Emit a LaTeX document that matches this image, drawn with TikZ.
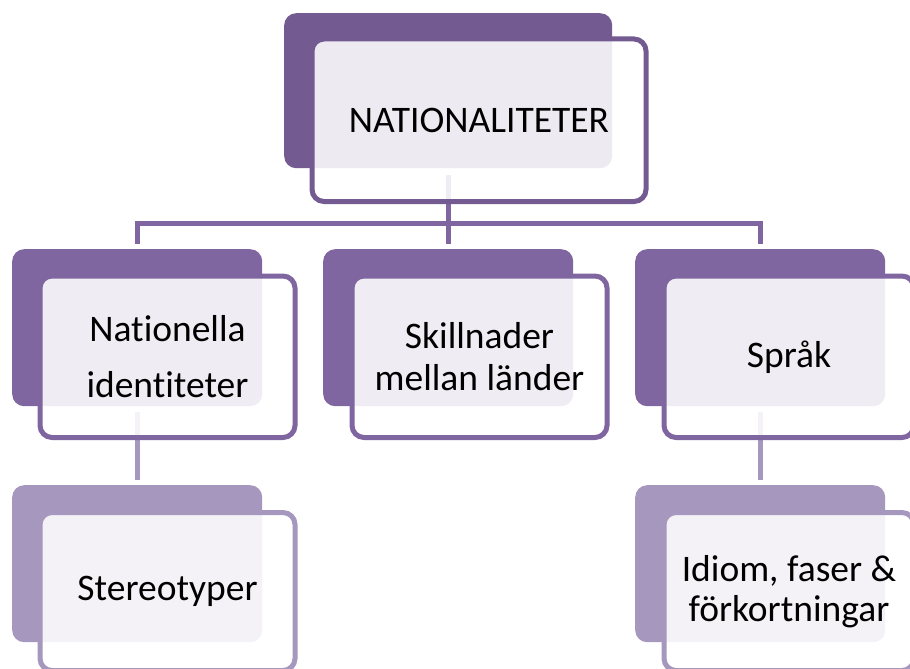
\documentclass[tikz,border=0pt]{standalone}
\usepackage{fontspec}
\setmainfont{Carlito}[Ligatures={NoCommon}]
\usetikzlibrary{calc}
\definecolor{topc}{HTML}{735B92}
\definecolor{midc}{HTML}{8066A0}
\definecolor{lowc}{HTML}{A597BD}
\begin{document}
\begin{tikzpicture}[x=1pt,y=-1pt,
  back/.style={rectangle, rounded corners=12pt, fill=#1, inner sep=0pt, anchor=north west},
  front/.style={rectangle, rounded corners=12pt, draw=#1, line width=5pt,
    fill=white, fill opacity=0.88, text opacity=1, inner sep=0pt,
    align=center, anchor=north west},
  conn/.style={draw=#1, line width=5pt},
  lbl/.style={font=\fontsize{37.5}{#1}\selectfont}
  ]
\useasboundingbox (0,0) rectangle (910,669);

% shaded back plates
\node[back=topc, minimum width=328pt, minimum height=155pt] (topA) at (284,13) {};
\node[back=midc, minimum width=250pt, minimum height=157pt] (nA) at (12,249) {};
\node[back=midc, minimum width=250pt, minimum height=157pt] (mA) at (323,249) {};
\node[back=midc, minimum width=250pt, minimum height=157pt] (sA) at (635,249) {};
\node[back=lowc, minimum width=250pt, minimum height=157pt] (stA) at (12,485) {};
\node[back=lowc, minimum width=250pt, minimum height=157pt] (idA) at (635,485) {};

% connectors
\coordinate (bar) at (0,223);
\draw[conn=midc] ([yshift=-7pt]topA.south) -- (topA.south |- bar);
\draw[conn=midc] ([yshift=5pt]nA.north) -- (nA.north |- bar) -- (sA.north |- bar) -- ([yshift=5pt]sA.north);
\draw[conn=midc] (mA.north |- bar) -- ([yshift=5pt]mA.north);
\draw[conn=lowc] ([yshift=-6pt]nA.south) -- ([yshift=5pt]stA.north);
\draw[conn=lowc] ([yshift=-6pt]sA.south) -- ([yshift=5pt]idA.north);

% front cards with text
\node[front=topc, minimum width=334pt, minimum height=162.5pt, lbl=42] (topB) at (309.5,36.5) {NATIONALITETER};
\node[front=midc, minimum width=255pt, minimum height=161.5pt, lbl=56] (nB) at (37.5,273.5) {Nationella\\identiteter};
\node[front=midc, minimum width=255pt, minimum height=161.5pt, lbl=42] (mB) at (349.5,273.5) {Skillnader\\mellan länder};
\node[front=midc, minimum width=250pt, minimum height=161.5pt, lbl=42] (sB) at (661.5,273.5) {Språk};
\node[front=lowc, minimum width=255pt, minimum height=158pt, lbl=42] (stB) at (37.5,510) {Stereotyper};
\node[front=lowc, minimum width=250pt, minimum height=158pt, lbl=40] (idB) at (661.5,510) {Idiom, faser \&\\förkortningar};
\end{tikzpicture}
\end{document}
